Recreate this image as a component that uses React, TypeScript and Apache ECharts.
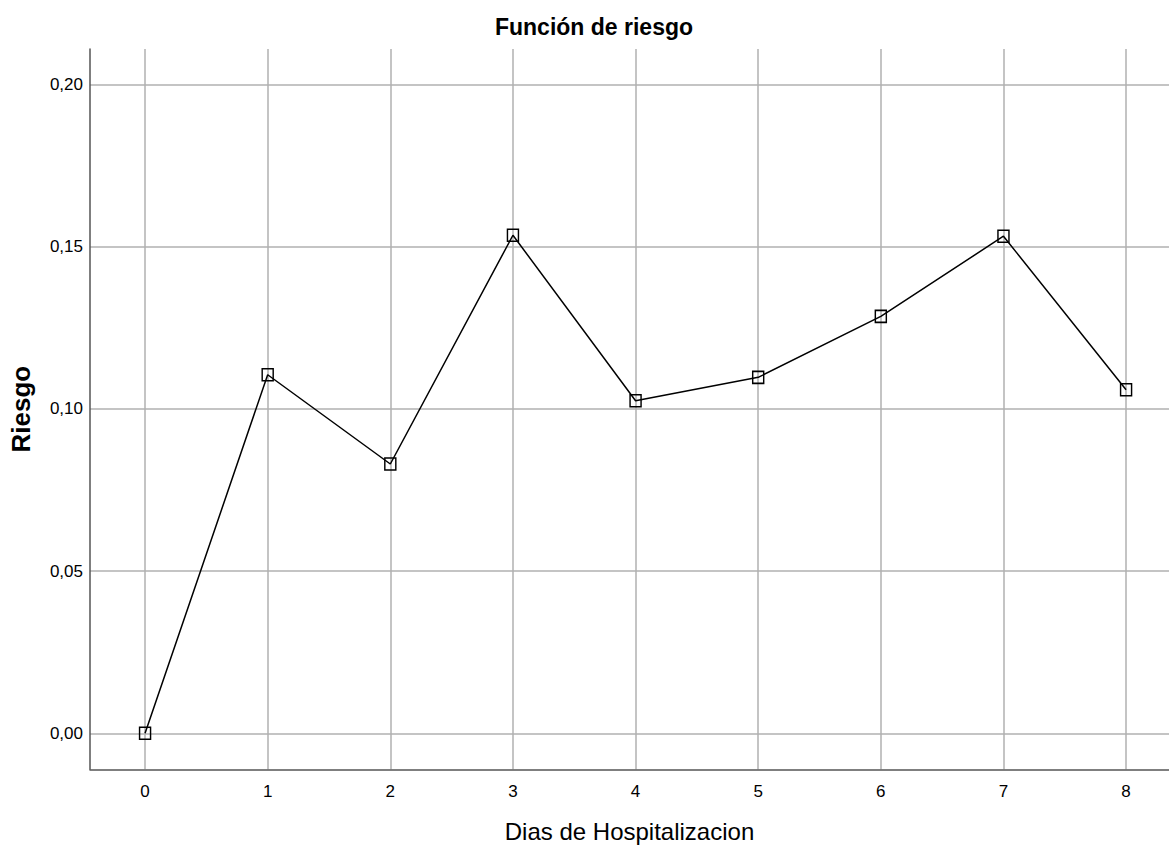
import React, { useEffect, useRef } from "react";
import * as echarts from "echarts";

const days = [0, 1, 2, 3, 4, 5, 6, 7, 8];
const riesgo = [0.0, 0.1105, 0.083, 0.1535, 0.1025, 0.1097, 0.1285, 0.1532, 0.1059];
const yTicks = [0, 0.05, 0.1, 0.15, 0.2];
const xTicks = [0, 1, 2, 3, 4, 5, 6, 7, 8];
const title = "Función de riesgo";
const xName = "Dias de Hospitalizacion";
const yName = "Riesgo";

const font = "'Liberation Sans', Arial, sans-serif";

export default function App() {
  const ref = useRef<HTMLDivElement>(null);
  useEffect(() => {
    if (!ref.current) return;
    const chart = echarts.init(ref.current, null, { renderer: "svg" });
    chart.setOption({
      animation: false,
      backgroundColor: "#ffffff",
      title: {
        text: title,
        left: 589,
        textAlign: "center",
        top: 10,
        textStyle: { fontFamily: font, fontSize: 23, fontWeight: "bold", color: "#000" },
      },
      grid: { left: 90, top: 49, right: 0, bottom: 87.7, containLabel: false },
      xAxis: {
        type: "value",
        min: -0.449,
        max: 8.35,
        name: xName,
        nameLocation: "middle",
        nameGap: 50,
        nameTextStyle: { fontFamily: font, fontSize: 24, color: "#000" },
        axisLine: { show: true, onZero: false, lineStyle: { color: "#555", width: 1.5 } },
        axisTick: { show: false, customValues: xTicks },
        axisLabel: {
          customValues: xTicks,
          margin: 14,
          fontFamily: font,
          fontSize: 17,
          color: "#000",
          formatter: (v: number) => String(v),
        },
        splitLine: { show: true, lineStyle: { color: "#b0b0b0", width: 1.5 } },
      },
      yAxis: {
        type: "value",
        min: -0.0111,
        max: 0.2109,
        name: yName,
        nameLocation: "middle",
        nameRotate: 90,
        nameGap: 56,
        nameTextStyle: { fontFamily: font, fontSize: 26, fontWeight: "bold", color: "#000" },
        axisLine: { show: true, onZero: false, lineStyle: { color: "#555", width: 1.5 } },
        axisTick: { show: false, customValues: yTicks },
        axisLabel: {
          customValues: yTicks,
          margin: 7,
          fontFamily: font,
          fontSize: 17,
          color: "#000",
          formatter: (v: number) => v.toFixed(2).replace(".", ","),
        },
        splitLine: { show: true, lineStyle: { color: "#c4c4c4", width: 2 } },
      },
      series: [
        {
          type: "line",
          data: days.map((d, i) => [d, riesgo[i]]),
          symbol: "rect",
          symbolSize: [11, 12],
          lineStyle: { color: "#000", width: 1.5 },
          itemStyle: { color: "none", borderColor: "#000", borderWidth: 1.5 },
          z: 5,
        },
      ],
    });
    return () => chart.dispose();
  }, []);
  return (
    <div
      ref={ref}
      style={{ position: "fixed", left: 0, top: 0, width: 1169, height: 857, background: "#fff" }}
    />
  );
}
